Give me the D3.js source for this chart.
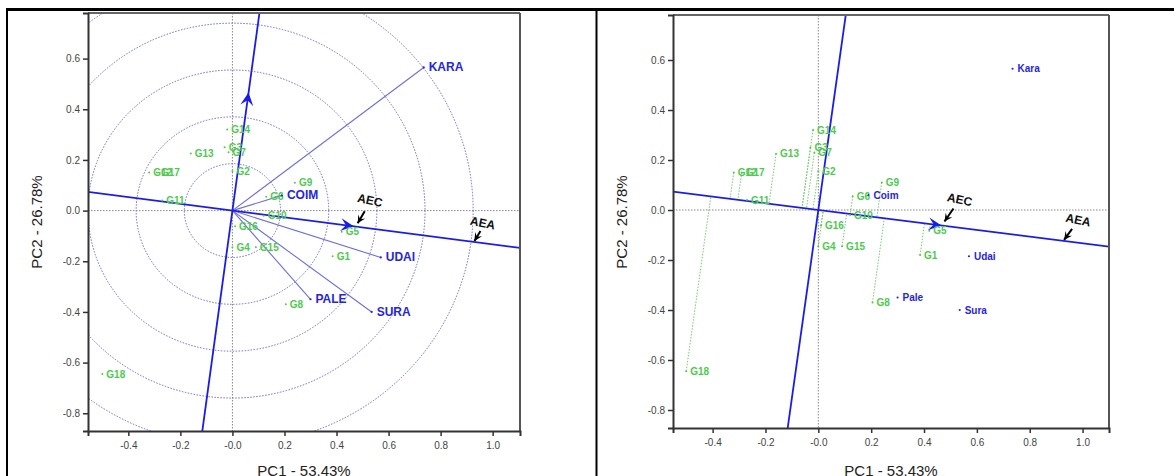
<!DOCTYPE html>
<html><head><meta charset="utf-8">
<script src="https://cdn.jsdelivr.net/npm/d3@7"></script>
<style>body{margin:0;background:#fff}svg{display:block}</style>
</head><body><svg id="c" width="1174" height="476"></svg>
<script>
const genotypes = ["G1","G2","G3","G4","G5","G6","G7","G8","G9","G10","G11","G12","G13","G14","G15","G16","G17","G18"];
const genoPC1 = [0.385,0.0,-0.03,0.0,0.42,0.13,-0.015,0.205,0.24,0.12,-0.27,-0.32,-0.16,-0.02,0.09,0.01,-0.29,-0.50];
const genoPC2 = [-0.18,0.155,0.25,-0.145,-0.083,0.055,0.23,-0.37,0.11,-0.02,0.04,0.15,0.225,0.32,-0.145,-0.062,0.15,-0.645];
const envNamesLeft = ["KARA","COIM","UDAI","PALE","SURA"];
const envNamesRight = ["Kara","Coim","Udai","Pale","Sura"];
const envPC1 = [0.735,0.19,0.57,0.30,0.535];
const envPC2 = [0.565,0.06,-0.185,-0.35,-0.40];
const circleRadii = [0.185,0.37,0.555,0.74,0.925];
const xTicks = [-0.4,-0.2,0,0.2,0.4,0.6,0.8,1.0];
const xTickLabels = ["-0.4","-0.2","-0.0","0.2","0.4","0.6","0.8","1.0"];
const yTicks = [0.6,0.4,0.2,0,-0.2,-0.4,-0.6,-0.8];
const yTickLabels = ["0.6","0.4","0.2","0.0","-0.2","-0.4","-0.6","-0.8"];
const xTitle = "PC1 - 53.43%";
const yTitle = "PC2 - 26.78%";
const aeaAnnotX = 0.93;

const svg = d3.select("#c");
const FONT = "Liberation Sans, Arial, sans-serif";
const GREEN = "#4fc94f", BLUE = "#2626dd", LINE = "#1c1ce8", VEC = "#6f6fdc";

// mean environment (average-environment axis direction)
const meanX = d3.mean(envPC1), meanY = d3.mean(envPC2);

// table borders
svg.append("line").attr("x1",6).attr("x2",1174).attr("y1",9.5).attr("y2",9.5).attr("stroke","#000").attr("stroke-width",3);
svg.append("line").attr("x1",7).attr("x2",7).attr("y1",8).attr("y2",476).attr("stroke","#000").attr("stroke-width",2);
svg.append("line").attr("x1",596.5).attr("x2",596.5).attr("y1",8).attr("y2",476).attr("stroke","#000").attr("stroke-width",2);

function arrowHead(g, px, py, ang, color, size){
  const s = size;
  const pts = [[0,0],[-s,-s*0.5],[-s*0.6,0],[-s,s*0.5]];
  const c = Math.cos(ang), sn = Math.sin(ang);
  const p = pts.map(([a,b])=>[px + a*c - b*sn, py + a*sn + b*c]);
  g.append("path").attr("d","M"+p.map(d=>d.join(",")).join("L")+"Z").attr("fill",color);
}

function annot(g, tx, ty, text, ax1, ay1, ax2, ay2){
  g.append("text").attr("x",tx).attr("y",ty).attr("text-anchor","middle").attr("dominant-baseline","middle")
    .attr("transform",`rotate(12,${tx},${ty})`).attr("font-family",FONT).attr("font-size",12).attr("font-weight","bold")
    .attr("fill","#111").text(text);
  g.append("line").attr("x1",ax1).attr("y1",ay1).attr("x2",ax2).attr("y2",ay2).attr("stroke","#000").attr("stroke-width",2);
  const ang = Math.atan2(ay2-ay1, ax2-ax1);
  arrowHead(g, ax2, ay2, ang, "#000", 8);
}

function panel(cfg){
  const x = d3.scaleLinear().domain(cfg.xd).range(cfg.xr);
  const y = d3.scaleLinear().domain(cfg.yd).range(cfg.yr);
  const g = svg.append("g");
  const id = "clip"+cfg.id;
  g.append("clipPath").attr("id",id).append("rect").attr("x",cfg.xr[0]).attr("y",cfg.yr[1]).attr("width",cfg.xr[1]-cfg.xr[0]).attr("height",cfg.yr[0]-cfg.yr[1]);
  const pg = g.append("g").attr("clip-path",`url(#${id})`);
  // reference lines
  pg.append("line").attr("x1",x(0)).attr("x2",x(0)).attr("y1",cfg.yr[1]).attr("y2",cfg.yr[0]).attr("stroke","#888").attr("stroke-dasharray","1.5,1.5");
  pg.append("line").attr("x1",cfg.xr[0]).attr("x2",cfg.xr[1]).attr("y1",y(0)).attr("y2",y(0)).attr("stroke","#888").attr("stroke-dasharray","1.5,1.5");
  const ox = x(0), oy = y(0);
  const L = 3;
  if(cfg.circles){
    circleRadii.forEach(r=>{
      pg.append("ellipse").attr("cx",ox).attr("cy",oy).attr("rx",x(r)-ox).attr("ry",oy-y(r))
        .attr("fill","none").attr("stroke","#6b6bd6").attr("stroke-width",1).attr("stroke-dasharray","1.5,1.5");
    });
    envPC1.forEach((v,i)=>{
      pg.append("line").attr("x1",ox).attr("y1",oy).attr("x2",x(v)).attr("y2",y(envPC2[i])).attr("stroke",VEC).attr("stroke-width",1.1);
    });
  }
  // projections
  if(cfg.proj){
    const n = Math.hypot(meanX,meanY), ux = meanX/n, uy = meanY/n;
    genoPC1.forEach((v,i)=>{
      const t = v*ux + genoPC2[i]*uy;
      pg.append("line").attr("x1",x(v)).attr("y1",y(genoPC2[i])).attr("x2",x(t*ux)).attr("y2",y(t*uy))
        .attr("stroke","#6fd06f").attr("stroke-width",1).attr("stroke-dasharray","1.5,1.5");
    });
  }
  // AEA line and perpendicular
  pg.append("line").attr("x1",x(-L*meanX)).attr("y1",y(-L*meanY)).attr("x2",x(L*meanX)).attr("y2",y(L*meanY)).attr("stroke",LINE).attr("stroke-width",1.8);
  pg.append("line").attr("x1",x(L*meanY*4)).attr("y1",y(-L*meanX*4)).attr("x2",x(-L*meanY*4)).attr("y2",y(L*meanX*4)).attr("stroke",LINE).attr("stroke-width",1.8);
  const angA = Math.atan2(y(meanY)-oy, x(meanX)-ox);
  arrowHead(g, x(meanX), y(meanY), angA, LINE, 13);
  if(cfg.circles){
    const angP = Math.atan2(y(meanX)-oy, x(-meanY)-ox);
    arrowHead(g, x(-meanY), y(meanX), angP, LINE, 13);
  }
  // genotypes
  genotypes.forEach((nm,i)=>{
    const px = x(genoPC1[i]), py = y(genoPC2[i]);
    g.append("circle").attr("cx",px).attr("cy",py).attr("r",1).attr("fill",GREEN);
    g.append("text").attr("x",px+4).attr("y",py).attr("dominant-baseline","central").attr("font-family",FONT)
      .attr("font-size",10).attr("font-weight","bold").attr("fill",GREEN).text(nm);
  });
  // environments
  const names = cfg.circles ? envNamesLeft : envNamesRight;
  envPC1.forEach((v,i)=>{
    const px = x(v), py = y(envPC2[i]);
    g.append("circle").attr("cx",px).attr("cy",py).attr("r",1.1).attr("fill",BLUE);
    g.append("text").attr("x",px+5).attr("y",py).attr("dominant-baseline","central").attr("font-family",FONT)
      .attr("font-size",cfg.circles?12:10).attr("font-weight","bold").attr("fill",BLUE).text(names[i]);
  });
  // annotations
  const mx = x(meanX), my = y(meanY);
  const a = cfg.annot;
  annot(g, mx+a[0], my+a[1], "AEC", mx+a[2], my+a[3], mx+a[4], my+a[5]);
  const ex = x(aeaAnnotX), ey = y(aeaAnnotX*meanY/meanX);
  const b = cfg.annot2;
  annot(g, ex+b[0], ey+b[1], "AEA", ex+b[2], ey+b[3], ex+b[4], ey+b[5]);
  // frame
  g.append("line").attr("x1",cfg.xr[0]).attr("x2",cfg.xr[1]).attr("y1",cfg.yr[1]).attr("y2",cfg.yr[1]).attr("stroke","#666").attr("stroke-width",2);
  g.append("line").attr("x1",cfg.xr[1]).attr("x2",cfg.xr[1]).attr("y1",cfg.yr[1]).attr("y2",cfg.yr[0]).attr("stroke","#555").attr("stroke-width",2);
  const xa = g.append("g").attr("transform",`translate(0,${cfg.yr[0]})`)
    .call(d3.axisBottom(x).tickValues(xTicks).tickFormat((d,i)=>xTickLabels[i]).tickSize(5).tickPadding(6));
  const ya = g.append("g").attr("transform",`translate(${cfg.xr[0]},0)`)
    .call(d3.axisLeft(y).tickValues(yTicks).tickFormat((d,i)=>yTickLabels[i]).tickSize(5).tickPadding(3));
  [xa,ya].forEach(a=>{
    a.select(".domain").attr("stroke","#333").attr("stroke-width",2);
    a.selectAll(".tick line").attr("stroke","#333").attr("stroke-width",1.5);
    a.selectAll(".tick text").attr("font-family",FONT).attr("font-size",10).attr("fill","#444");
  });
  g.append("text").attr("x",cfg.xtx).attr("y",476).attr("text-anchor","middle").attr("font-family",FONT).attr("font-size",15).attr("fill","#222").text(xTitle);
  g.append("text").attr("transform",`translate(${cfg.ytx},222) rotate(-90)`).attr("text-anchor","middle").attr("dominant-baseline","central")
    .attr("font-family",FONT).attr("font-size",15).attr("fill","#222").text(yTitle);
}

panel({id:"L", xd:[-0.555,1.105], xr:[88,520], yd:[-0.87,0.78], yr:[431,13], circles:true, proj:false,
  annot:[16,-25, 11,-15, 4,-3], annot2:[8,-18, 6,-11, 0,-1], xtx:304, ytx:36});
panel({id:"R", xd:[-0.55,1.10], xr:[673,1109], yd:[-0.872,0.78], yr:[428,15], circles:false, proj:true,
  annot:[18,-25, 12,-17, 3,-4], annot2:[14,-20, 8,-12, 0,-1], xtx:891, ytx:621});
</script></body></html>
